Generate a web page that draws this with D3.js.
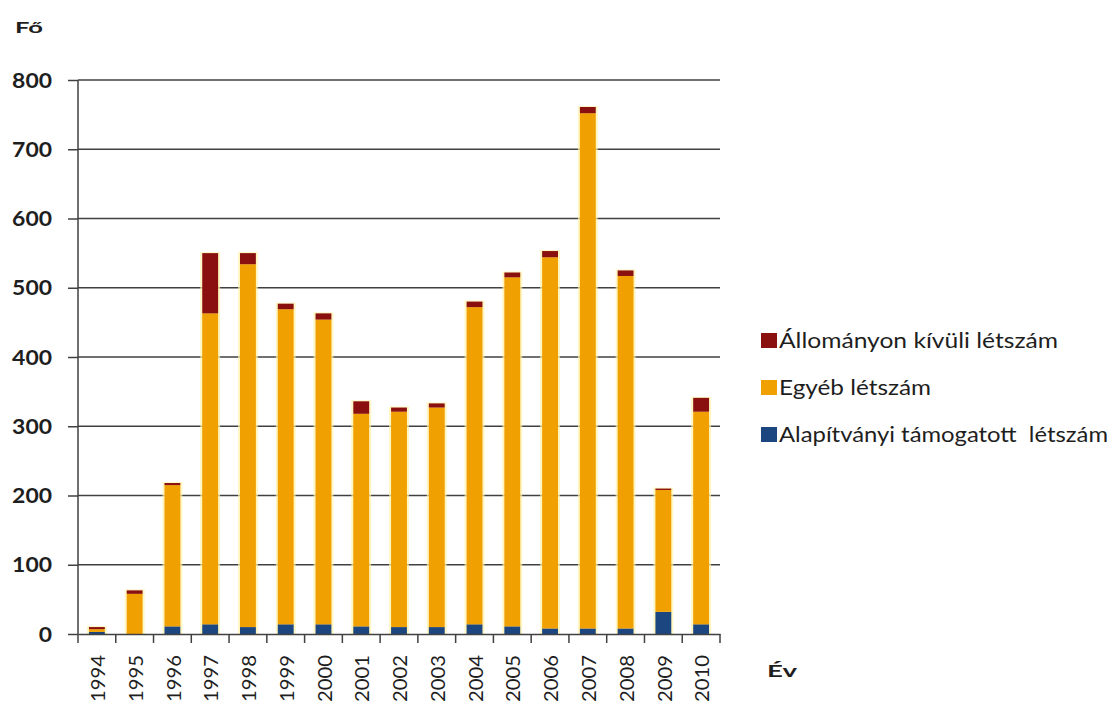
<!DOCTYPE html>
<html><head><meta charset="utf-8">
<script src="https://cdn.jsdelivr.net/npm/d3@7/dist/d3.min.js"></script>
<style>body{margin:0;background:#fff}svg{display:block}</style>
</head><body>
<svg id="c" width="1120" height="706"></svg>
<script>
const years = ["1994","1995","1996","1997","1998","1999","2000","2001","2002","2003","2004","2005","2006","2007","2008","2009","2010"];
const alapitvanyi = [3,0,11,14,10,14,14,11,10,10,14,11,8,8,8,32,14];
const egyeb = [4,58,204,449,524,455,440,307,311,317,458,504,536,744,509,176,307];
const allomanyon = [3,5,3,87,16,8,9,18,6,6,8,7,9,9,8,2,20];
const yTicks = [0,100,200,300,400,500,600,700,800];
const seriesNames = ["Állományon kívüli létszám","Egyéb létszám","Alapítványi támogatott  létszám"];
const colors = {alap:"#1c4680", egyeb:"#f0a000", allo:"#8a1010"};

const svg = d3.select("#c");
const pLeft = 78, pRight = 720, pTop = 80, pBottom = 634;
const x = d3.scaleBand().domain(years).range([pLeft, pRight]).paddingInner(0.58).paddingOuter(0.29);
const xb = d3.scaleBand().domain(years).range([pLeft, pRight]);
const y = d3.scaleLinear().domain([0, 800]).range([pBottom, pTop]);
const font = "Lato, 'Open Sans', sans-serif";
const ink = "#1e1e1e", lineC = "#404040";

// gridlines
svg.append("g").selectAll("line").data(yTicks.filter(d=>d>0)).join("line")
  .attr("x1", pLeft).attr("x2", pRight).attr("y1", d=>y(d)).attr("y2", d=>y(d))
  .attr("stroke", lineC).attr("stroke-width", 1.5);

// y axis
const yAxis = d3.axisLeft(y).tickValues(yTicks).tickSize(10).tickPadding(16);
const gy = svg.append("g").attr("transform", `translate(${pLeft},0)`).call(yAxis);
gy.select(".domain").attr("stroke", lineC).attr("stroke-width", 1.5).attr("d", `M0,${pBottom}V${pTop}`);
gy.selectAll(".tick line").attr("stroke", lineC).attr("stroke-width", 1.5);
gy.selectAll("text").attr("font-family", font).attr("font-size", 20).attr("font-weight", "bold").attr("fill", ink)
  .attr("dy", "0.36em")
  .attr("textLength", d=>String(d).length*13.3).attr("lengthAdjust", "spacingAndGlyphs");

// stacked data
const rows = years.map((yr,i)=>({year:yr, alap:alapitvanyi[i], egyeb:egyeb[i], allo:allomanyon[i]}));
const stack = d3.stack().keys(["alap","egyeb","allo"])(rows);

// glow behind bars
svg.append("g").selectAll("rect").data(rows).join("rect")
  .attr("x", d=>x(d.year)-2).attr("width", x.bandwidth()+4)
  .attr("y", d=>y(d.alap+d.egyeb+d.allo)-1)
  .attr("height", d=>y(0)-y(d.alap+d.egyeb+d.allo)+1)
  .attr("fill", "#fff2a8").attr("opacity", 0.7);

svg.append("g").selectAll("g").data(stack).join("g")
  .attr("fill", d=>colors[d.key])
  .selectAll("rect").data(d=>d).join("rect")
  .attr("x", d=>x(d.data.year)).attr("width", x.bandwidth())
  .attr("y", d=>y(d[1])).attr("height", d=>y(d[0])-y(d[1]));

// x axis
const xAxis = d3.axisBottom(xb).tickSize(0).tickPadding(0);
const gx = svg.append("g").attr("transform", `translate(0,${pBottom})`).call(xAxis);
gx.select(".domain").attr("stroke", lineC).attr("stroke-width", 1.5);
gx.selectAll("text").attr("font-family", font).attr("font-size", 20).attr("fill", ink)
  .attr("transform", "rotate(-90)").attr("text-anchor", "end")
  .attr("x", -21).attr("y", 1).attr("dy", "0.36em")
  .attr("textLength", 47).attr("lengthAdjust", "spacingAndGlyphs");
// boundary ticks
const bounds = years.map(d=>xb(d)).concat([pRight]);
svg.append("g").selectAll("line").data(bounds).join("line")
  .attr("x1", d=>d).attr("x2", d=>d).attr("y1", pBottom).attr("y2", pBottom+9)
  .attr("stroke", lineC).attr("stroke-width", 1.5);

// axis titles
svg.append("text").attr("x", 15).attr("y", 33).text("Fő")
  .attr("font-family", font).attr("font-size", 16).attr("font-weight", "bold").attr("fill", ink)
  .attr("textLength", 28).attr("lengthAdjust", "spacingAndGlyphs");
svg.append("text").attr("x", 767).attr("y", 677).text("Év")
  .attr("font-family", font).attr("font-size", 17).attr("font-weight", "bold").attr("fill", ink)
  .attr("textLength", 30).attr("lengthAdjust", "spacingAndGlyphs");

// legend
const legKeys = ["allo","egyeb","alap"];
const legW = [279, 152, 329];
const lg = svg.append("g").selectAll("g").data(legKeys).join("g")
  .attr("transform", (d,i)=>`translate(761,${333 + i*47})`);
lg.append("rect").attr("x", 0).attr("y", 0).attr("width", 16).attr("height", 15).attr("fill", d=>colors[d]);
lg.append("text").attr("x", 18).attr("y", 15)
  .attr("xml:space","preserve").style("white-space","pre")
  .text((d,i)=>seriesNames[i])
  .attr("textLength", (d,i)=>legW[i]).attr("lengthAdjust", "spacingAndGlyphs")
  .attr("font-family", font).attr("font-size", 21).attr("fill", ink);
</script>
</body></html>
